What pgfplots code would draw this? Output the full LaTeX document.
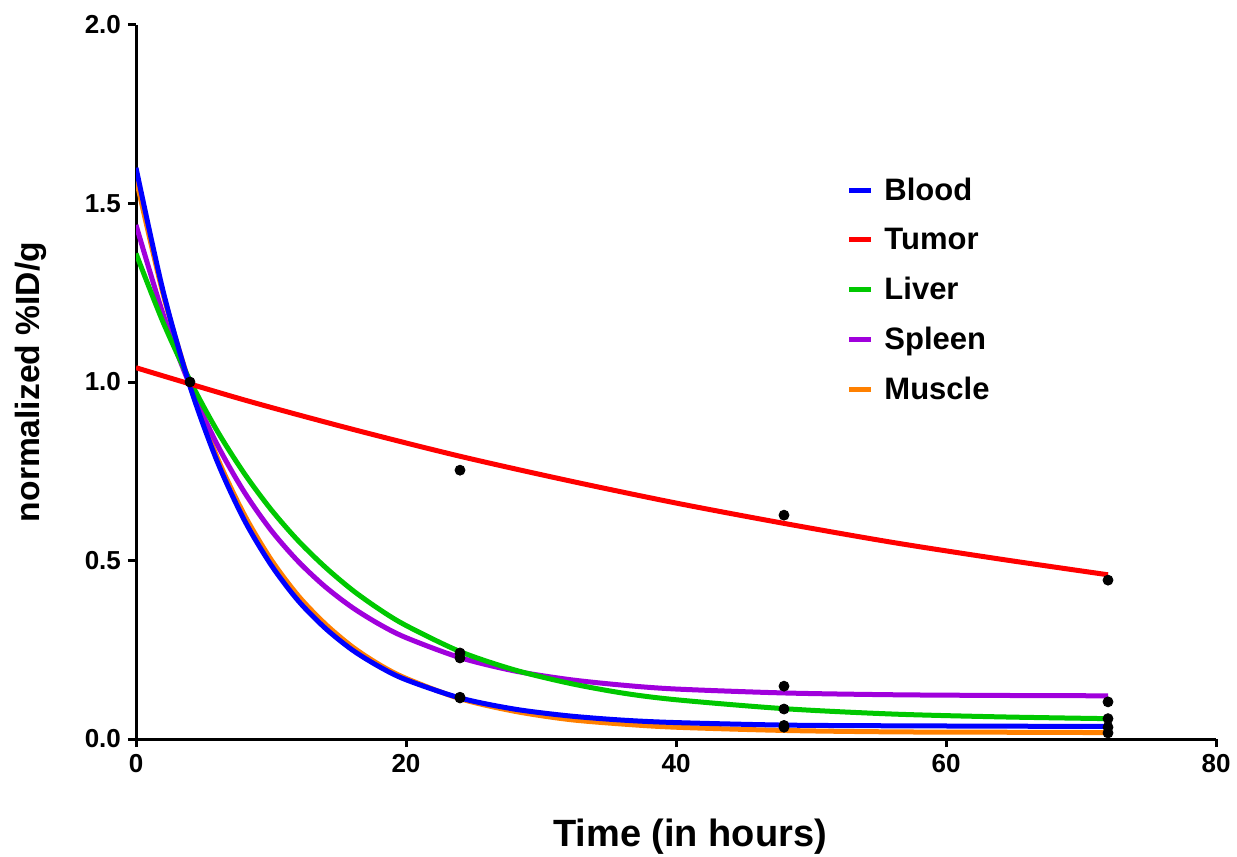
\documentclass[border=0pt]{standalone}
\usepackage{fontspec}
\setmainfont{Liberation Sans}
\usepackage{pgfplots}
\pgfplotsset{compat=1.18}
\definecolor{cBlood}{RGB}{0,0,255}
\definecolor{cTumor}{RGB}{255,0,0}
\definecolor{cLiver}{RGB}{0,200,0}
\definecolor{cSpleen}{RGB}{160,0,220}
\definecolor{cMuscle}{RGB}{255,128,0}
\begin{document}
\begin{tikzpicture}
\begin{axis}[
  scale only axis, width=540pt, height=357pt,
  xmin=0, xmax=80, ymin=0, ymax=2,
  axis x line=bottom, axis y line=left,
  axis line style={-, line width=1.5pt},
  tick align=outside, major tick length=4pt,
  tick style={line width=1.5pt, black},
  xtick={0,20,40,60,80}, ytick={0,0.5,1,1.5,2},
  minor tick num=0,
  /pgf/number format/assume math mode=true,
  yticklabel style={/pgf/number format/fixed, /pgf/number format/fixed zerofill, /pgf/number format/precision=1},
  ticklabel style={font=\bfseries\fontsize{13}{15}\selectfont},
  xlabel={Time (in hours)}, ylabel={normalized \%ID/g},
  xlabel style={font=\bfseries\fontsize{19}{23}\selectfont, at={(axis description cs:0.513,-0.150)}, anchor=base},
  ylabel style={font=\bfseries\fontsize{16.8}{20}\selectfont, at={(axis description cs:-0.0972,0.5)}, anchor=center, rotate=0},
  legend style={draw=none, fill=none, at={(axis description cs:0.652,0.798)}, anchor=north west,
    font=\bfseries\fontsize{15.5}{18}\selectfont, row sep=8.3pt},
  legend cell align=left,
  legend image code/.code={\draw[#1, line width=2.5pt] (0pt,0pt) -- (11pt,0pt); \path (15.5pt,0pt);},
]
\addlegendimage{cBlood}\addlegendentry{Blood}
\addlegendimage{cTumor}\addlegendentry{Tumor}
\addlegendimage{cLiver}\addlegendentry{Liver}
\addlegendimage{cSpleen}\addlegendentry{Spleen}
\addlegendimage{cMuscle}\addlegendentry{Muscle}
% fitted decay curves
\addplot[cMuscle, line width=2.5pt, smooth, forget plot] coordinates {
  (0,1.570) (2,1.248) (4,0.993) (6,0.790) (8,0.630) (10,0.503) (12,0.402) (14,0.323)
  (16,0.259) (18,0.209) (20,0.170) (24,0.113) (28,0.078) (32,0.055) (36,0.042)
  (40,0.033) (48,0.024) (56,0.020) (64,0.019) (72,0.018)};
\addplot[cSpleen, line width=2.5pt, smooth, forget plot] coordinates {
  (0,1.440) (2,1.191) (4,0.990) (6,0.826) (8,0.693) (10,0.585) (12,0.498) (14,0.427)
  (16,0.369) (18,0.322) (20,0.284) (24,0.228) (28,0.191) (32,0.167) (36,0.151)
  (40,0.140) (48,0.129) (56,0.124) (64,0.122) (72,0.121)};
\addplot[cLiver, line width=2.5pt, smooth, forget plot] coordinates {
  (0,1.360) (2,1.168) (4,1.004) (6,0.864) (8,0.745) (10,0.643) (12,0.556) (14,0.482)
  (16,0.418) (18,0.364) (20,0.318) (24,0.245) (28,0.194) (32,0.157) (36,0.129)
  (40,0.110) (48,0.085) (56,0.070) (64,0.062) (72,0.057)};
\addplot[cBlood, line width=2.5pt, smooth, forget plot] coordinates {
  (0,1.600) (2,1.256) (4,0.988) (6,0.779) (8,0.615) (10,0.488) (12,0.388) (14,0.311)
  (16,0.250) (18,0.203) (20,0.166) (24,0.115) (28,0.084) (32,0.065) (36,0.053)
  (40,0.046) (48,0.039) (56,0.037) (64,0.036) (72,0.035)};
\addplot[cTumor, line width=2.5pt, smooth, forget plot] coordinates {
  (0,1.040) (8,0.950) (16,0.868) (24,0.792) (32,0.724) (40,0.661) (48,0.604)
  (56,0.551) (64,0.504) (72,0.460)};
% measured points
\addplot[only marks, mark=*, mark size=2.5pt, black, forget plot] coordinates {
  (4,1.0)
  (24,0.753) (24,0.241) (24,0.227) (24,0.117) (24,0.115)
  (48,0.627) (48,0.148) (48,0.084) (48,0.038) (48,0.033)
  (72,0.445) (72,0.104) (72,0.057) (72,0.033) (72,0.017)};
\end{axis}
\pgfresetboundingbox
\path[use as bounding box] ([shift={(-68pt,-58.5pt)}]current axis.south west)
  rectangle ([shift={(10.5pt,12.5pt)}]current axis.north east);
\end{tikzpicture}
\end{document}
